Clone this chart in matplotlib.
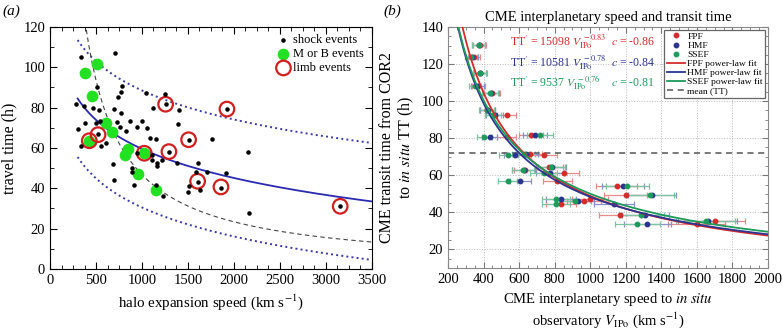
import matplotlib
matplotlib.use("Agg")
import matplotlib.pyplot as plt
from matplotlib.ticker import AutoMinorLocator, MultipleLocator
import numpy as np

plt.rcParams['font.family'] = ['Liberation Serif', 'DejaVu Serif']
plt.rcParams['mathtext.fontset'] = 'stix'

# ---- panel (a): halo expansion speed vs travel time ----
shock_v = [279, 337, 308, 333, 380, 366, 471, 514, 536, 500, 551, 520, 545, 612,
           699, 710, 743, 768, 786, 772, 725, 761, 826, 870, 942, 996, 1043, 1051,
           1116, 1087, 1152, 688, 699, 888, 895, 913, 942, 1105, 1105, 1159, 1159,
           1152, 1225, 1214, 1250, 1261, 1399, 1395, 1294, 1384, 1507, 1605, 1587,
           1508, 1504, 1609, 1631, 1710, 1757, 1855, 1917, 1920, 2152, 2167, 3156]
shock_t = [81.6, 105.2, 69.3, 61.0, 72.2, 80.8, 79.7, 90.4, 78.9, 72.6, 61.0, 67.0, 73.4, 62.5,
           79.2, 107.3, 85.1, 87.9, 90.9, 77.5, 73.1, 70.3, 68.2, 73.4, 70.3, 73.4, 87.4, 69.8,
           80.0, 65.1, 64.3, 51.9, 44.2, 49.9, 47.9, 41.8, 57.4, 54.1, 56.5, 52.8, 51.1,
           41.7, 36.3, 54.1, 86.6, 81.7, 78.9, 71.7, 57.9, 52.7, 64.2, 52.7, 48.3,
           41.1, 38.2, 43.3, 39.2, 48.3, 64.6, 40.3, 47.8, 79.4, 57.9, 27.9, 31.1]
mb_v = [377, 514, 453, 609, 674, 427, 848, 819, 1025, 953, 1148]
mb_t = [97.0, 101.5, 85.8, 72.2, 67.8, 63.6, 59.3, 56.4, 57.4, 47.0, 39.2]
limb_v = [427, 522, 1025, 1257, 1293, 1507, 1605, 1859, 1924, 3156]
limb_t = [63.6, 66.6, 57.4, 81.7, 58.2, 64.1, 43.5, 40.7, 79.3, 31.1]

# fits: TT = a - b ln(V), with +/- band; dashed ~ k / V
fit_a, fit_b, band = 203.0, 20.77, 29.0
dash_k = 46800.0

# ---- panel (b): interplanetary speed vs transit time ----
tt = [130.5, 123.8, 115.0, 108.0, 104.5, 95.2, 92.5, 82.0, 80.5, 71.2, 71.6,
      64.5, 62.6, 61.4, 56.7, 54.0, 49.4, 47.4, 46.4, 44.7, 38.8, 35.6, 33.6]
v_fpf = [378, 345, 382, 370, 445, 420, 531, 667, 531, 740, 660,
         770, 632, 852, 815, 1148, 1200, 1000, 965, 835, 1168, 1700, 1598]
v_hmf = [372, 335, 377, 365, 440, 422, 462, 690, 434, 575, 640,
         785, 625, 775, 607, 1185, 1350, 835, 930, 1132, 1310, 1660, 1320]
v_ssef = [372, 328, 378, 352, 437, 418, 452, 718, 405, 540, 625,
          778, 620, 737, 535, 1208, 1335, 808, 915, 808, 1288, 1650, 1265]
rel_err = 0.10
mean_tt = 72.0

names = ['FPF', 'HMF', 'SSEF']
coef = [15098, 10581, 9537]
expo = [-0.83, -0.78, -0.76]
corr = [-0.86, -0.84, -0.81]
colors = ['#d42b2b', '#2b3590', '#1f9a5a']
err_colors = ['#e88a8a', '#8a90c8', '#7cc4a0']

fig = plt.figure(figsize=(7.83, 3.34), dpi=100)
ax1 = fig.add_axes([0.0639, 0.1946, 0.411, 0.7246])
ax2 = fig.add_axes([0.5722, 0.1976, 0.4087, 0.7216])

# panel a
vv = np.linspace(300, 3500, 300)
ax1.plot(vv, fit_a + band - fit_b * np.log(vv), ':', color='#3a3aa8', lw=1.4)
ax1.plot(vv, fit_a - band - fit_b * np.log(vv), ':', color='#3a3aa8', lw=1.4)
ax1.plot(vv, fit_a - fit_b * np.log(vv), '-', color='#2a2ab0', lw=1.3)
ax1.plot(vv, dash_k / vv, '--', color='#444444', lw=0.8, dashes=(4, 3))
ax1.scatter(mb_v, mb_t, s=55, color='#22e022', zorder=3, label='M or B events')
ax1.scatter(limb_v, limb_t, s=110, facecolors='none', edgecolors='#d02020',
            linewidths=1.6, zorder=4, label='limb events')
ax1.scatter(shock_v, shock_t, s=5, color='black', zorder=5, label='shock events')
ax1.set_xlim(0, 3500)
ax1.set_ylim(0, 120)
ax1.xaxis.set_major_locator(MultipleLocator(500))
ax1.xaxis.set_minor_locator(AutoMinorLocator(4))
ax1.yaxis.set_major_locator(MultipleLocator(20))
ax1.yaxis.set_minor_locator(AutoMinorLocator(2))
ax1.tick_params(which='both', direction='in', top=True, right=True, labelsize=10.5)
ax1.tick_params(which='major', length=5)
ax1.tick_params(which='minor', length=3)
ax1.set_xlabel('halo expansion speed (km s$^{-1}$)', fontsize=10.8)
ax1.set_ylabel('travel time (h)', fontsize=11.5)
h, l = ax1.get_legend_handles_labels()
order = [2, 0, 1]
ax1.legend([h[i] for i in order], [l[i] for i in order], loc='upper right',
           frameon=False, fontsize=9, handletextpad=0.2, borderaxespad=0.2,
           labelspacing=0.15, handlelength=1.2)

# panel b
ax2.grid(True, ls=':', color='#bbbbbb', lw=0.7)
ax2.set_axisbelow(True)
vb = np.linspace(200, 2000, 400)
series = [v_fpf, v_hmf, v_ssef]
for i in range(3):
    x = np.array(series[i])
    ax2.errorbar(x, tt, xerr=rel_err * x, fmt='none', ecolor=err_colors[i],
                 elinewidth=0.9, capsize=2, capthick=0.9, zorder=2)
for i in range(3):
    ax2.plot(series[i], tt, 'o', color=colors[i], ms=3.2, ls='none', zorder=3,
             label=names[i])
for i in range(3):
    ax2.plot(vb, coef[i] * vb ** expo[i], '-', color=colors[i], lw=1.3, zorder=4,
             label=names[i] + ' power-law fit')
ax2.axhline(mean_tt, color='#555555', ls='--', lw=1.1, dashes=(4, 3), label='mean (TT)')
ax2.set_xlim(200, 2000)
ax2.set_ylim(10, 140)
ax2.xaxis.set_major_locator(MultipleLocator(200))
ax2.xaxis.set_minor_locator(AutoMinorLocator(4))
ax2.yaxis.set_major_locator(MultipleLocator(20))
ax2.yaxis.set_minor_locator(AutoMinorLocator(4))
ax2.tick_params(which='both', direction='in', top=True, right=True, labelsize=10.5,
                color='#777777')
ax2.tick_params(which='major', length=4)
ax2.tick_params(which='minor', length=2)
for sp in ax2.spines.values():
    sp.set_color('#888888')
ax2.set_title('CME interplanetary speed and transit time', fontsize=10.5, pad=4)
ax2.set_xlabel('CME interplanetary speed to $\\it{in\\ situ}$\nobservatory $V_{\\rm IPo}$ (km s$^{-1}$)',
               fontsize=10.5, linespacing=1.1)
ax2.set_ylabel('CME transit time from COR2\nto $\\it{in\\ situ}$ TT (h)', fontsize=11.5,
               linespacing=1.1)
ty = [132, 120.8, 110]
for i in range(3):
    ax2.text(549, ty[i], "TT$'$ = %d $V_{\\rm IPo}^{\\ %.2f}$" % (coef[i], expo[i]),
             color=colors[i], fontsize=8.5, va='center')
    ax2.text(1117, ty[i], "$c$ = %.2f" % corr[i], color=colors[i], fontsize=8.5,
             va='center')
leg = ax2.legend(loc='upper right', fontsize=6.8, fancybox=False, edgecolor='#666666',
                 handlelength=1.9, labelspacing=0.05, borderaxespad=0.3,
                 handletextpad=0.3, borderpad=0.25, framealpha=1)
leg.get_frame().set_linewidth(0.9)

fig.text(0.003, 0.955, '(a)', fontsize=11, style='italic')
fig.text(0.49, 0.955, '(b)', fontsize=11, style='italic')

fig.savefig('out.png', dpi=100)
